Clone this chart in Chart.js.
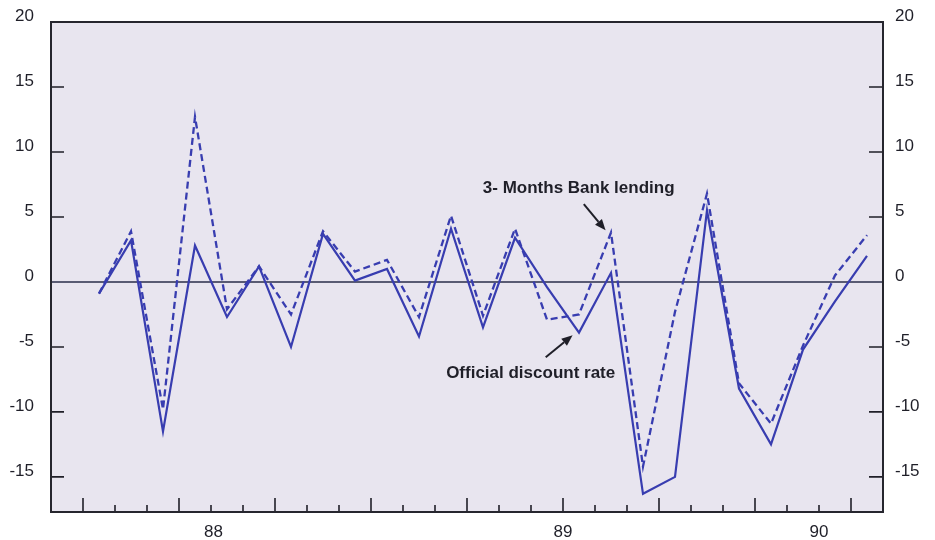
<!DOCTYPE html>
<html>
<head>
<meta charset="utf-8">
<script src="https://cdn.jsdelivr.net/npm/chart.js@4/dist/chart.umd.min.js"></script>
<style>
  html, body { margin: 0; padding: 0; background: #ffffff; }
  #wrap { width: 935px; height: 540px; position: relative; }
</style>
</head>
<body>
<div id="wrap"><canvas id="c"></canvas></div>
<script>
// Monthly positions on the time axis (month slots, mid-month)
const periods = [1.5, 2.5, 3.5, 4.5, 5.5, 6.5, 7.5, 8.5, 9.5, 10.5, 11.5, 12.5, 13.5,
                 14.5, 15.5, 16.5, 17.5, 18.5, 19.5, 20.5, 21.5, 22.5, 23.5, 24.5, 25.5];

// Official discount rate (solid line)
const officialRate = [-0.9, 3.2, -11.5, 2.8, -2.7, 1.2, -5.0, 3.7, 0.1, 1.0, -4.2, 4.1, -3.5,
                      3.4, -0.4, -3.9, 0.7, -16.3, -15.0, 5.5, -8.2, -12.5, -5.2, -1.5, 2.0];

// 3-month bank lending rate (dashed line)
const bankLending = [-0.9, 3.9, -9.8, 12.7, -2.1, 1.2, -2.5, 3.9, 0.8, 1.7, -2.7, 5.1, -2.6,
                     4.1, -2.9, -2.5, 3.8, -14.2, -2.3, 6.8, -7.8, -10.9, -4.9, 0.5, 3.6];

// Axis ticks
const yTickValues = [-15, -10, -5, 0, 5, 10, 15, 20];
const yearTickValues = [5.08, 16, 24];
const yearTickLabels = ['88', '89', '90'];

const FONT = "'Liberation Sans', Arial, Helvetica, sans-serif";
const LINE_BLUE = '#383db0';
const INK = '#1f1f28';

const toPoints = (ys) => ys.map((y, i) => ({ x: periods[i], y }));

// Frame, inner tick marks, zero line and the callouts
const framePlugin = {
  id: 'frame',
  beforeDraw(chart) {
    const { ctx, chartArea: a } = chart;
    ctx.save();
    ctx.fillStyle = '#e8e5ef';
    ctx.fillRect(a.left, a.top, a.right - a.left, a.bottom - a.top);
    ctx.restore();
  },
  beforeDatasetsDraw(chart) {
    const { ctx, chartArea: a, scales } = chart;
    const y0 = scales.y.getPixelForValue(0);
    ctx.save();
    ctx.strokeStyle = '#2a2d4a';
    ctx.lineWidth = 1.6;
    ctx.beginPath();
    ctx.moveTo(a.left, y0);
    ctx.lineTo(a.right, y0);
    ctx.stroke();

    ctx.strokeStyle = INK;
    ctx.lineWidth = 1.6;
    // month marks on the bottom axis, quarters longer
    for (let k = 1; k < 26; k++) {
      const x = scales.x.getPixelForValue(k);
      const len = (k - 1) % 3 === 0 ? 14 : 7;
      ctx.beginPath();
      ctx.moveTo(x, a.bottom);
      ctx.lineTo(x, a.bottom - len);
      ctx.stroke();
    }
    // value marks on both side axes
    [-15, -10, -5, 5, 10, 15].forEach(v => {
      const y = scales.y.getPixelForValue(v);
      ctx.beginPath();
      ctx.moveTo(a.left, y);
      ctx.lineTo(a.left + 13, y);
      ctx.moveTo(a.right, y);
      ctx.lineTo(a.right - 14, y);
      ctx.stroke();
    });
    ctx.restore();
  },
  afterDatasetsDraw(chart) {
    const { ctx, chartArea: a, scales } = chart;
    const px = (x, y) => [scales.x.getPixelForValue(x), scales.y.getPixelForValue(y)];
    ctx.save();
    ctx.strokeStyle = '#26262e';
    ctx.lineWidth = 2;
    ctx.strokeRect(a.left, a.top, a.right - a.left, a.bottom - a.top);

    const arrow = (from, to) => {
      const [x1, y1] = px(from[0], from[1]);
      const [x2, y2] = px(to[0], to[1]);
      const ang = Math.atan2(y2 - y1, x2 - x1);
      const hl = 11, hw = 4.5;
      const bx = x2 - hl * Math.cos(ang), by = y2 - hl * Math.sin(ang);
      ctx.strokeStyle = INK;
      ctx.fillStyle = INK;
      ctx.lineWidth = 2;
      ctx.beginPath();
      ctx.moveTo(x1, y1);
      ctx.lineTo(bx, by);
      ctx.stroke();
      ctx.beginPath();
      ctx.moveTo(x2, y2);
      ctx.lineTo(bx + hw * Math.sin(ang), by - hw * Math.cos(ang));
      ctx.lineTo(bx - hw * Math.sin(ang), by + hw * Math.cos(ang));
      ctx.closePath();
      ctx.fill();
    };
    arrow([16.65, 5.98], [17.33, 3.98]);
    arrow([15.46, -5.79], [16.30, -4.10]);

    ctx.fillStyle = INK;
    ctx.font = `bold 17px ${FONT}`;
    ctx.textAlign = 'center';
    ctx.textBaseline = 'middle';
    let [tx, ty] = px(16.49, 7.2);
    ctx.fillText('3- Months Bank lending', tx, ty);
    [tx, ty] = px(14.99, -7.02);
    ctx.fillText('Official discount rate', tx, ty);
    ctx.restore();
  }
};

const sideAxis = (position, padding, width) => ({
  type: 'linear',
  position,
  min: -17.7,
  max: 20,
  grid: { display: false, drawTicks: false },
  border: { display: false },
  afterBuildTicks: (s) => { s.ticks = yTickValues.map(v => ({ value: v })); },
  afterFit: (s) => { s.width = width; s.paddingTop = 0; s.paddingBottom = 0; },
  ticks: {
    padding,
    labelOffset: -6,
    color: INK,
    font: { family: FONT, size: 17 }
  }
});

new Chart(document.getElementById('c'), {
  type: 'line',
  data: {
    datasets: [
      {
        label: 'Official discount rate',
        data: toPoints(officialRate),
        borderColor: LINE_BLUE,
        borderWidth: 2.2,
        pointRadius: 0,
        tension: 0,
        yAxisID: 'y'
      },
      {
        label: '3- Months Bank lending',
        data: toPoints(bankLending),
        borderColor: LINE_BLUE,
        borderWidth: 2.3,
        borderDash: [7, 4],
        pointRadius: 0,
        tension: 0,
        yAxisID: 'y'
      }
    ]
  },
  options: {
    responsive: true,
    maintainAspectRatio: false,
    animation: false,
    layout: { padding: { top: 22, left: 0, right: 0, bottom: 0 } },
    plugins: { legend: { display: false }, tooltip: { enabled: false } },
    scales: {
      x: {
        type: 'linear',
        min: 0,
        max: 26,
        grid: { display: false, drawTicks: false },
        border: { display: false },
        afterBuildTicks: (s) => { s.ticks = yearTickValues.map(v => ({ value: v })); },
        afterFit: (s) => { s.height = 28; s.paddingLeft = 0; s.paddingRight = 0; },
        ticks: {
          autoSkip: false,
          maxRotation: 0,
          padding: 10,
          color: INK,
          font: { family: FONT, size: 17 },
          callback: (v) => {
            const i = yearTickValues.indexOf(v);
            return i >= 0 ? yearTickLabels[i] : '';
          }
        }
      },
      y: sideAxis('left', 17, 51),
      y2: sideAxis('right', 12, 52)
    }
  },
  plugins: [framePlugin]
});
</script>
</body>
</html>
